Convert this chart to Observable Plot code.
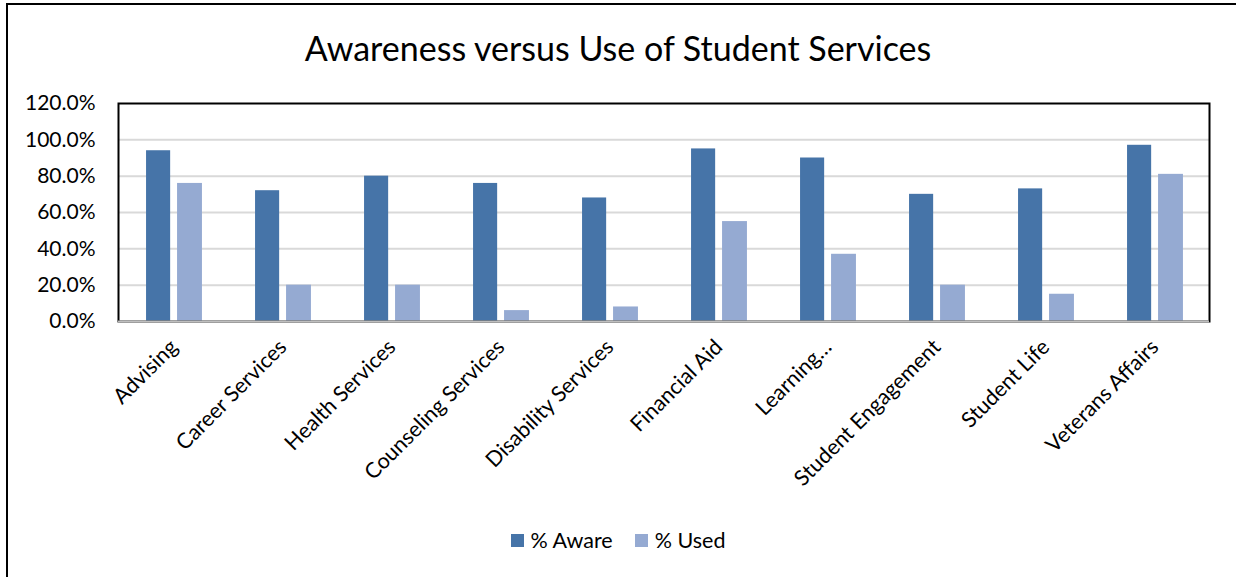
<!DOCTYPE html>
<html>
<head>
<meta charset="utf-8">
<script src="https://cdn.jsdelivr.net/npm/d3@7"></script>
<script src="https://cdn.jsdelivr.net/npm/@observablehq/plot@0.6"></script>
<style>
  html, body { margin: 0; padding: 0; background: #fff; }
  #wrap { position: relative; width: 1236px; height: 577px; overflow: hidden; font-family: Lato, "Open Sans", sans-serif; }
  #border { position: absolute; left: 6px; top: 3px; width: 1300px; height: 700px; border-left: 2px solid #000; border-top: 2px solid #000; }
  #title { position: absolute; left: 0; width: 1236px; top: 26px; text-align: center; font-size: 34px; color: #000; line-height: 44px; }
  #chart { position: absolute; left: 0; top: 80px; }
  #legend { position: absolute; left: 0; width: 1236px; top: 527px; display: flex; justify-content: center; gap: 22px; font-size: 21.5px; color: #000; }
  .item { display: flex; align-items: center; gap: 7px; }
  .sw { width: 13px; height: 13px; display: inline-block; }
</style>
</head>
<body>
<div id="wrap">
  <div id="border"></div>
  <div id="title">Awareness versus Use of Student Services</div>
  <div id="chart"></div>
  <div id="legend"></div>
</div>
<script>
const categories = ["Advising", "Career Services", "Health Services", "Counseling Services", "Disability Services", "Financial Aid", "Learning…", "Student Engagement", "Student Life", "Veterans Affairs"];
const seriesNames = ["% Aware", "% Used"];
const aware = [0.94, 0.72, 0.80, 0.76, 0.68, 0.95, 0.90, 0.70, 0.73, 0.97];
const used = [0.76, 0.20, 0.20, 0.06, 0.08, 0.55, 0.37, 0.20, 0.15, 0.81];
const yTicks = [0, 0.2, 0.4, 0.6, 0.8, 1.0, 1.2];
const colors = ["#4674a8", "#95aad2"];

const W = 1236, H = 420, mL = 118, mR = 27, mT = 23, mB = 179;
const step = (W - mL - mR) / categories.length;

const awareData = categories.map((c, i) => ({category: c, value: aware[i]}));
const usedData = categories.map((c, i) => ({category: c, value: used[i]}));

const chart = Plot.plot({
  width: W, height: H,
  marginLeft: mL, marginRight: mR, marginTop: mT, marginBottom: mB,
  style: {fontFamily: "Lato, 'Open Sans', sans-serif", fontSize: "21px", color: "#000", background: "transparent"},
  x: {domain: categories, padding: 0, label: null},
  y: {domain: [0, 1.2], label: null},
  marks: [
    Plot.ruleY(yTicks.slice(1, -1), {stroke: "#d9d9d9", strokeWidth: 2}),
    Plot.barY(awareData, {x: "category", y: "value", fill: colors[0], insetLeft: step / 2 - 27.5, insetRight: step / 2 + 3.3}),
    Plot.barY(usedData, {x: "category", y: "value", fill: colors[1], insetLeft: step / 2 + 3.5, insetRight: step / 2 - 28.5}),
    Plot.frame({stroke: "#000", strokeWidth: 2}),
    Plot.ruleY([0], {stroke: "#bfbfbf", strokeWidth: 2}),
    Plot.axisY({ticks: yTicks, tickSize: 0, tickPadding: 23, tickFormat: d => (d * 100).toFixed(1) + "%", label: null, fontSize: 21}),
    Plot.axisX({tickSize: 0, tickRotate: -45, tickPadding: 22, label: null, fontSize: 21.5})
  ]
});
document.getElementById("chart").appendChild(chart);

const legend = document.getElementById("legend");
seriesNames.forEach((name, i) => {
  const item = document.createElement("div");
  item.className = "item";
  const sw = document.createElement("span");
  sw.className = "sw";
  sw.style.background = colors[i];
  const label = document.createElement("span");
  label.textContent = name;
  item.appendChild(sw);
  item.appendChild(label);
  legend.appendChild(item);
});
</script>
</body>
</html>
